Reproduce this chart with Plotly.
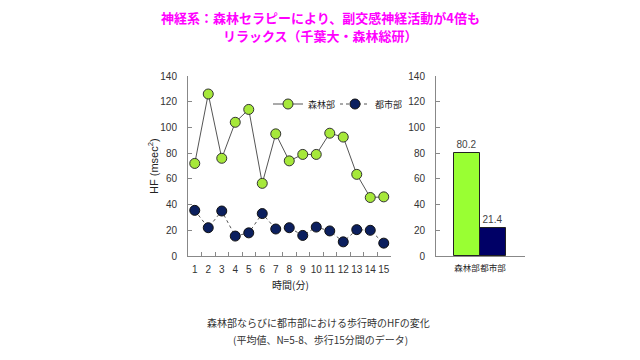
import plotly.graph_objects as go

minutes = [str(i) for i in range(1, 16)]
forest = [72, 126, 76, 104, 114, 56.5, 95, 74, 79, 79, 95.5, 92.5, 63.5, 45.5, 46]
city = [35.5, 22, 35, 15.5, 18, 33, 21, 22, 16, 22.5, 19.5, 11, 20.5, 20, 10]
bar_cats = ["森林部", "都市部"]
bar_vals = [80.2, 21.4]
bar_labels = ["80.2", "21.4"]
yticks = [0, 20, 40, 60, 80, 100, 120, 140]

W, H = 640, 360
OFF = 8  # page body margin of the browser
def px(x): return (x - OFF) / W
def py(y): return 1 - (y - OFF) / H

JP = "Noto Sans CJK JP"
NUM = "Liberation Sans Narrow, Liberation Sans, Arial, sans-serif"
GREEN_M = "#a6e83a"
GREEN_B = "#99ff33"
NAVY = "#0b1f5e"

fig = go.Figure()
fig.add_trace(go.Scatter(x=minutes, y=forest, name="森林部", mode="lines+markers",
                         line=dict(color="#555555", width=1),
                         marker=dict(size=10, color=GREEN_M, line=dict(color="#333333", width=1)),
                         xaxis="x", yaxis="y"))
fig.add_trace(go.Scatter(x=minutes, y=city, name="都市部", mode="lines+markers",
                         line=dict(color="#555555", width=1, dash="dot"),
                         marker=dict(size=10, color=NAVY, line=dict(color="#111111", width=1)),
                         xaxis="x", yaxis="y"))
fig.add_trace(go.Bar(x=bar_cats, y=bar_vals, text=bar_labels, textposition="outside",
                     textfont=dict(family=NUM, size=10, color="#444444"),
                     marker=dict(color=[GREEN_B, "#000066"], line=dict(color="#222222", width=1)),
                     showlegend=False, xaxis="x2", yaxis="y2", cliponaxis=False))

axis_common = dict(showgrid=False, zeroline=False, showline=True, linecolor="#888888", linewidth=1,
                   automargin=False, tickfont=dict(family=NUM, size=10, color="#333333"))

fig.update_layout(
    template="none",
    width=W, height=H, margin=dict(l=0, r=0, t=0, b=0, autoexpand=False),
    paper_bgcolor="white", plot_bgcolor="white",
    bargap=0.0,
    xaxis=dict(domain=[px(188), px(390.5)], anchor="y", type="category", range=[-0.5, 14.5],
               ticks="inside", ticklen=4, tickcolor="#888888", tickson="boundaries",
               tickangle=0, ticklabelstandoff=4, **axis_common),
    yaxis=dict(domain=[py(256), py(76)], anchor="x", range=[0, 140], tickvals=yticks,
               ticks="inside", ticklen=4, tickcolor="#888888", ticklabelstandoff=8, **axis_common),
    xaxis2=dict(domain=[px(436), px(525)], anchor="y2", type="category", range=[-1.19, 2.23],
                ticks="", tickangle=0, ticklabelstandoff=4,
                **{**axis_common, "tickfont": dict(family=JP, size=8.5, color="#222222")}),
    yaxis2=dict(domain=[py(256), py(76)], anchor="x2", range=[0, 140], tickvals=yticks,
                ticks="inside", ticklen=4, tickcolor="#888888", ticklabelstandoff=8, **axis_common),
    legend=dict(orientation="h", x=px(268), y=py(104), xanchor="left", yanchor="middle",
                font=dict(family=JP, size=9, color="#222222"), bgcolor="rgba(0,0,0,0)",
                entrywidth=22, entrywidthmode="pixels", tracegroupgap=0),
    showlegend=True,
)

annotations = [
    dict(text="<b>神経系：森林セラピーにより、副交感神経活動が4倍も</b>", x=px(320), y=py(17),
         font=dict(family=JP, size=13, color="#ff00ff")),
    dict(text="<b>リラックス（千葉大・森林総研）</b>", x=px(320), y=py(36),
         font=dict(family=JP, size=13, color="#ff00ff")),
    dict(text="HF (msec<sup>2</sup>)", x=px(153), y=py(166), textangle=-90,
         font=dict(family="Liberation Sans, Arial, sans-serif", size=11, color="#222222")),
    dict(text="時間(分)", x=px(290), y=py(284), font=dict(family=JP, size=10, color="#222222")),
    dict(text="森林部ならびに都市部における歩行時のHFの変化", x=px(318), y=py(322),
         font=dict(family=JP, size=10, color="#333333")),
    dict(text="(平均値、N=5-8、歩行15分間のデータ)", x=px(320), y=py(339),
         font=dict(family=JP, size=10, color="#333333")),
]
for a in annotations:
    a.update(xref="paper", yref="paper", showarrow=False, xanchor="center", yanchor="middle")
fig.update_layout(annotations=annotations)

fig.write_html("out.html")
